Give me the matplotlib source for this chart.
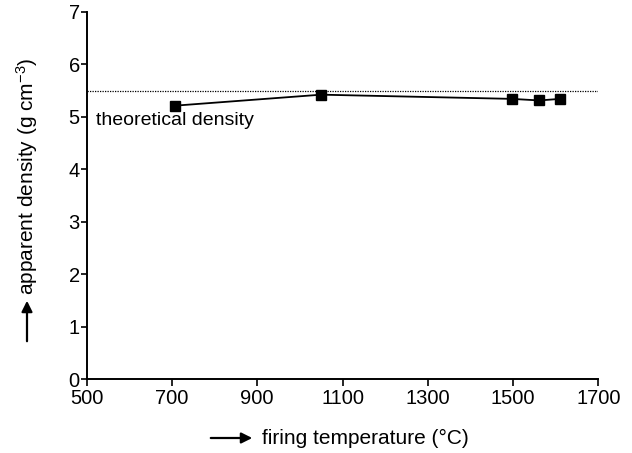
import matplotlib
matplotlib.use("Agg")
import matplotlib.pyplot as plt

plt.rcParams['font.family'] = ['Liberation Sans', 'DejaVu Sans']
plt.rcParams['mathtext.fontset'] = 'custom'
plt.rcParams['mathtext.rm'] = 'Liberation Sans'
plt.rcParams['mathtext.it'] = 'Liberation Sans'

# firing temperature (C) and apparent density (g cm-3)
temp = [706, 1050, 1497, 1562, 1610]
density = [5.21, 5.42, 5.34, 5.31, 5.34]
theo_density = 5.49

xticks = [500, 700, 900, 1100, 1300, 1500, 1700]
yticks = [0, 1, 2, 3, 4, 5, 6, 7]

W, H = 632, 453
fig = plt.figure(figsize=(W / 100, H / 100), dpi=100)
ax = fig.add_axes([86.7 / W, 1 - 379.3 / H, (598.3 - 86.7) / W, (379.3 - 11.7) / H])

ax.axhline(theo_density, color='black', ls=(0, (1, 1)), lw=0.9)
ax.plot(temp, density, color='black', lw=1.3, marker='s', ms=7.5)
ax.text(522, 4.92, "theoretical density", fontsize=14, ha='left', va='center')

ax.set_xlim(500, 1700)
ax.set_ylim(0, 7)
ax.set_xticks(xticks)
ax.set_yticks(yticks)
ax.tick_params(labelsize=14.5, length=5, width=1.2)
ax.tick_params(axis='x', pad=2)
ax.tick_params(axis='y', pad=1, length=4)
for s in ['top', 'right']:
    ax.spines[s].set_visible(False)
for s in ['left', 'bottom']:
    ax.spines[s].set_linewidth(1.4)

# axis labels with arrows
fig.text(27 / W, 1 - 176 / H, "apparent density (g cm$^{\\mathrm{-3}}$)", fontsize=15,
         rotation=90, ha='center', va='center')
ax.annotate("", xy=(27 / W, 1 - 298 / H), xytext=(27 / W, 1 - 344 / H),
            xycoords='figure fraction', textcoords='figure fraction',
            arrowprops=dict(arrowstyle='-|>', color='black', lw=1.6, mutation_scale=16))
fig.text(262 / W, 1 - 438 / H, "firing temperature (°C)", fontsize=15,
         ha='left', va='center')
ax.annotate("", xy=(255 / W, 1 - 438 / H), xytext=(208 / W, 1 - 438 / H),
            xycoords='figure fraction', textcoords='figure fraction',
            arrowprops=dict(arrowstyle='-|>', color='black', lw=1.6, mutation_scale=16))

fig.savefig("out.png", dpi=100)
